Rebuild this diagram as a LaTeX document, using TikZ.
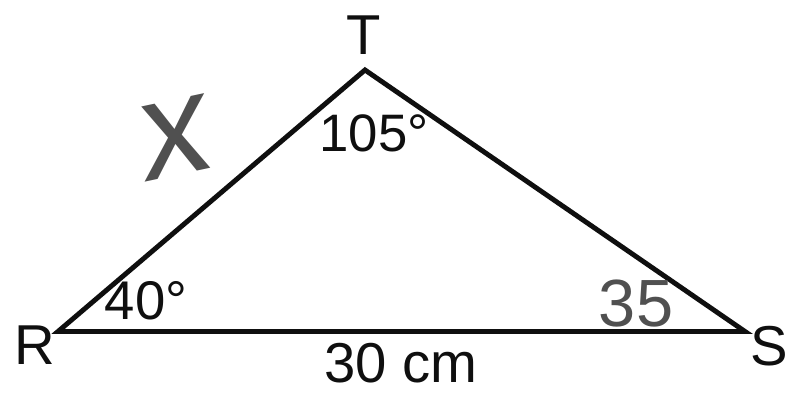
\documentclass[tikz,border=0pt]{standalone}
\usepackage{fontspec}
\setmainfont{Liberation Sans}
\usepackage{xcolor}
\usetikzlibrary{positioning,calc}
\definecolor{inkBlack}{RGB}{15,15,15}
\definecolor{pencilGray}{RGB}{80,80,80}
\tikzset{
  vlabel/.style={font=\fontsize{32}{38}\selectfont,inkBlack},
  alabel/.style={font=\fontsize{31}{36}\selectfont,inkBlack},
  hand/.style={pencilGray}
}

\begin{document}
\begin{tikzpicture}
        \useasboundingbox (0,0) rectangle (15.74,7.86);

        % Vertices
        \coordinate (R) at (1.16,1.23);
        \coordinate (S) at (14.90,1.23);
        \coordinate (T) at (7.30,6.46);

        % Triangle
        \draw[inkBlack,line width=2.8pt,line join=miter] (R)--(T)--(S)--cycle;

        % Vertex names
        \node[vlabel] (nameT) at (7.28,7.15){T};
        \node[vlabel] (nameR) at (0.70,0.95){R};
        \node[vlabel] (nameS) at (15.38,0.94){S};

        % Angles
        \node[font=\fontsize{30}{34}\selectfont,inkBlack] (angT) at (7.48,5.20){105°};
        \node[alabel] (angR) at (2.92,1.84){40°};
        \node[hand,font=\fontsize{38}{44}\selectfont] (angS) at (12.72,1.78){35};

        % Sides
        \node[font=\fontsize{32}{38}\selectfont,inkBlack] (sideRS) at (8.02,0.60){30 cm};
        \node[hand,font=\fontsize{80}{88}\selectfont,rotate=12,xslant=0.15] (sideRT) at (3.52,5.10){x};
      \end{tikzpicture}
\end{document}
